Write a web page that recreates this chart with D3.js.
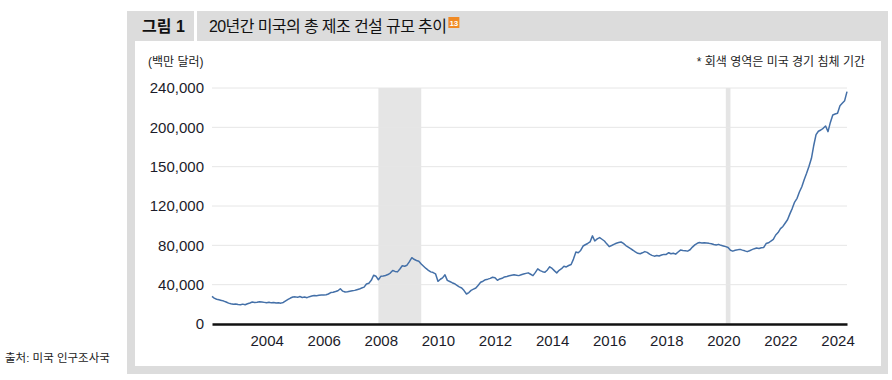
<!DOCTYPE html>
<html>
<head>
<meta charset="utf-8">
<script src="https://cdn.jsdelivr.net/npm/d3@7"></script>
<style>
  body { margin: 0; background: #fff; }
  svg text { font-family: "Liberation Sans", Arial, "Noto Sans CJK KR", sans-serif; }
</style>
</head>
<body>
<svg id="chart"></svg>
<script>
// monthly spending, million dollars, Feb 2002 .. May 2024
var startMonth = new Date(2002, 1, 1);
var spending = [
  28000, 26300, 25200, 24600, 24000, 23300, 22400, 21200, 20500, 20000, 20400,
  19800, 19500, 20200, 19600, 20600, 21400, 22300, 21800, 22100, 22700, 22400, 22000,
  21600, 22100, 21500, 21800, 21300, 21700, 21200, 21900, 23600, 25000, 26400, 27400,
  27600, 27100, 27900, 27000, 27400, 26800, 27800, 28400, 29000, 28800, 29200, 29500,
  29400, 29700, 30500, 32000, 32300, 33000, 33800, 35900, 33400, 32500, 32900, 33400,
  33800, 34200, 34900, 35500, 36600, 37500, 40700, 41500, 44400, 49600, 48500, 45000,
  48500, 48900, 49400, 50300, 51800, 54400, 53500, 53000, 56000, 59200, 58700, 59800,
  63500, 67400, 65800, 64600, 63900, 61000, 58800, 56500, 54600, 53000, 52300, 51000,
  43400, 45500, 46900, 50000, 44400, 43200, 42000, 41000, 39400, 37800, 36600, 34000,
  30500, 32000, 34200, 35400, 36600, 39500, 42400, 43500, 45100, 45600, 46400, 47500,
  47000, 44400, 45800, 46500, 47900, 48400, 49000, 49500, 50000, 49600, 49200, 50100,
  50800, 51500, 52000, 50600, 49200, 52500, 56100, 54300, 53200, 52600, 55000, 58200,
  56500, 54000, 52000, 54600, 56200, 58800, 58000, 59500, 60500, 66000, 73200, 72500,
  74800, 79300, 80600, 81900, 83400, 89600, 84400, 86500, 87900, 86200, 84400, 81500,
  78700, 79800, 80900, 82100, 82800, 83400, 82000, 79800, 78200, 76600, 75000, 73300,
  71900, 71500, 72400, 73600, 72800, 71000, 69800, 69000, 69600, 69200, 70100, 70800,
  70800, 72500, 71400, 72000, 71000, 73200, 75200, 74800, 74500, 74100, 75500, 78200,
  80500, 82100, 82800, 82400, 82600, 82300, 82000, 81600, 80800, 80300, 81000, 80000,
  79400, 78700, 77800, 75000, 74100, 75000, 75400, 75900, 75100, 74400, 73600, 74500,
  75600, 76600, 77200, 76800, 77600, 77900, 81800, 82600, 84400, 86000, 90500, 93000,
  97000, 99200, 102500, 106000, 112000, 117600, 124000, 127800, 134500, 139600, 147000, 153200,
  160500, 168500, 181000, 192600, 196000, 197300, 199000, 201400, 195600, 205000, 212600, 213500,
  214300, 222000, 224500, 227100, 236300
];
// recession periods [start, end]
var recessions = [
  [new Date(2007, 11, 1), new Date(2009, 5, 1)],
  [new Date(2020, 1, 1), new Date(2020, 3, 1)]
];
var yTicks = [0, 40000, 80000, 120000, 160000, 200000, 240000];
var yTickLabels = ["0", "40,000", "80,000", "120,000", "150,000", "200,000", "240,000"];
var xTickYears = [2004, 2006, 2008, 2010, 2012, 2014, 2016, 2018, 2020, 2022, 2024];

var data = spending.map(function(v, i) {
  return { date: d3.timeMonth.offset(startMonth, i), value: v };
});

var width = 892, height = 380;
var margin = {top: 88, right: 45, bottom: 56, left: 212};
var plotW = width - margin.left - margin.right,
    plotH = height - margin.top - margin.bottom;

var svg = d3.select("#chart")
  .attr("width", width)
  .attr("height", height);

// frame
var frameColor = "#dcdcdc";
svg.append("rect").attr("x", 127).attr("y", 11).attr("width", 67).attr("height", 30).attr("fill", frameColor);
svg.append("rect").attr("x", 197).attr("y", 11).attr("width", 691).attr("height", 30).attr("fill", frameColor);
svg.append("rect").attr("x", 127).attr("y", 41).attr("width", 8).attr("height", 333).attr("fill", frameColor);
svg.append("rect").attr("x", 881).attr("y", 41).attr("width", 7).attr("height", 333).attr("fill", frameColor);
svg.append("rect").attr("x", 127).attr("y", 366).attr("width", 761).attr("height", 8).attr("fill", frameColor);

svg.append("text").attr("x", 142).attr("y", 32)
  .style("font-size", "16px").style("font-weight", "bold").attr("fill", "#111")
  .text("그림 1");
var title = svg.append("text").attr("x", 209).attr("y", 32)
  .style("font-size", "16px").style("letter-spacing", "-0.6px").attr("fill", "#111")
  .text("20년간 미국의 총 제조 건설 규모 추이");
var tw = title.node().getComputedTextLength();
svg.append("rect").attr("x", 209 + tw + 2).attr("y", 17).attr("width", 11).attr("height", 11).attr("fill", "#f08a24");
svg.append("text").attr("x", 209 + tw + 7.5).attr("y", 26)
  .attr("text-anchor", "middle").style("font-size", "8px").style("font-weight", "bold")
  .attr("fill", "#fff").text("13");

svg.append("text").attr("x", 148).attr("y", 66)
  .style("font-size", "12px").attr("fill", "#222").text("(백만 달러)");
svg.append("text").attr("x", 865).attr("y", 66).attr("text-anchor", "end")
  .style("font-size", "12px").attr("fill", "#222").text("* 회색 영역은 미국 경기 침체 기간");
svg.append("text").attr("x", 5).attr("y", 362)
  .style("font-size", "11.5px").attr("fill", "#222").text("출처: 미국 인구조사국");

var g = svg.append("g")
  .attr("transform", "translate(" + margin.left + "," + margin.top + ")");

var x = d3.scaleTime()
  .domain(d3.extent(data, function(d) { return d.date; }))
  .range([0, plotW]);
var y = d3.scaleLinear()
  .domain([0, 240000])
  .range([plotH, 0]);

// recession shading
g.selectAll(".rec")
  .data(recessions)
  .enter()
  .append("rect")
  .attr("x", function(d) { return x(d[0]); })
  .attr("width", function(d) { return x(d[1]) - x(d[0]); })
  .attr("y", y(240000))
  .attr("height", plotH)
  .attr("fill", "#e5e5e5");

// gridlines
g.selectAll(".grid")
  .data(yTicks.slice(1))
  .enter()
  .append("line")
  .attr("x1", 0).attr("x2", plotW)
  .attr("y1", function(d) { return y(d); })
  .attr("y2", function(d) { return y(d); })
  .attr("stroke", "#e6e6e6").attr("stroke-width", 1);

// Y axis
var yAxis = g.append("g")
  .call(d3.axisLeft(y).tickValues(yTicks).tickSize(0).tickPadding(8)
    .tickFormat(function(d, i) { return yTickLabels[i]; }));
yAxis.select(".domain").remove();
yAxis.selectAll("text").style("font-size", "15px").attr("fill", "#1c1c2a");

// X axis
var xAxis = g.append("g")
  .attr("transform", "translate(0," + plotH + ")")
  .call(d3.axisBottom(x)
    .tickValues(xTickYears.map(function(yr) { return new Date(yr, 0, 1); }))
    .tickSize(0).tickPadding(11)
    .tickFormat(d3.timeFormat("%Y")));
xAxis.select(".domain").attr("stroke", "#111").attr("stroke-width", 2.5);
xAxis.selectAll("text").style("font-size", "15px").attr("fill", "#1c1c2a");

// line
var line = d3.line()
  .x(function(d) { return x(d.date); })
  .y(function(d) { return y(d.value); });
g.append("path")
  .datum(data)
  .attr("fill", "none")
  .attr("stroke", "#4470a8")
  .attr("stroke-width", 1.5)
  .attr("stroke-linejoin", "round")
  .attr("d", line);
</script>
</body>
</html>
